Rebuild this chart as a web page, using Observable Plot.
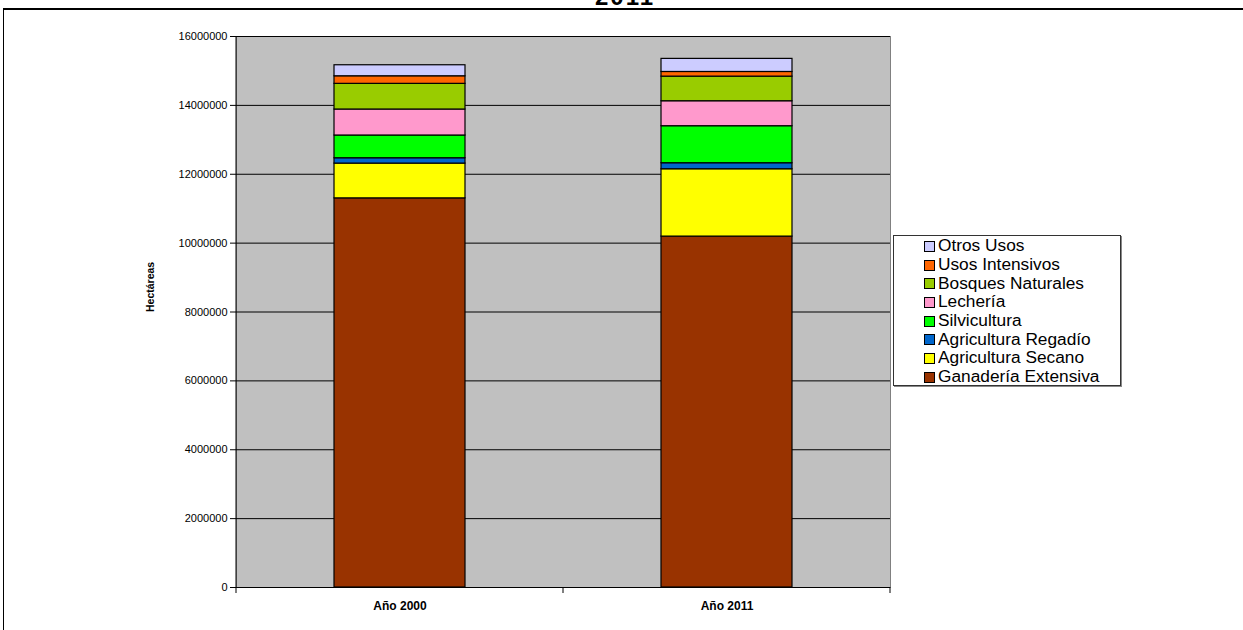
<!DOCTYPE html>
<html>
<head>
<meta charset="utf-8">
<script src="https://cdn.jsdelivr.net/npm/d3@7"></script>
<script src="https://cdn.jsdelivr.net/npm/@observablehq/plot@0.6"></script>
<style>
  body { margin: 0; background: #fff; font-family: "Liberation Sans", Arial, sans-serif; }
  #wrap { position: relative; width: 1243px; height: 630px; overflow: hidden; background: #fff; }
  #chart { position: absolute; left: 0; top: 0; }
  #border { position: absolute; left: 3px; top: 8px; width: 1300px; height: 700px; border-top: 2px solid #000; border-left: 1px solid #000; pointer-events: none; }
  #title { position: absolute; left: 525px; width: 200px; top: -15px; text-align: center; font: bold 24px/24px "Liberation Sans", Arial, sans-serif; letter-spacing: 2px; color: #000; }
  #legend { position: absolute; left: 893px; top: 235px; width: 228px; height: 151px; border: 1px solid #333; box-shadow: 1px 1px 0 #888; background: #fff; box-sizing: border-box; padding-top: 1px; }
  .li { display: flex; align-items: center; height: 18.7px; padding-left: 30px; font: 16px "Liberation Sans", Arial, sans-serif; color: #000; white-space: nowrap; }
  .sw { width: 9px; height: 9px; border: 1px solid #000; margin-right: 3px; flex: none; }
  .lt { display: inline-block; transform: scaleX(1.08); transform-origin: left center; }
</style>
</head>
<body>
<div id="wrap">
  <div id="title">2011</div>
  <div id="chart"></div>
  <div id="border"></div>
  <div id="legend"></div>
</div>
<script>
const categories = ["Año 2000", "Año 2011"];
const series = ["Ganadería Extensiva", "Agricultura Secano", "Agricultura Regadío", "Silvicultura", "Lechería", "Bosques Naturales", "Usos Intensivos", "Otros Usos"];
const values2000 = [11300000, 1010000, 155000, 660000, 755000, 745000, 220000, 320000];
const values2011 = [10190000, 1955000, 175000, 1075000, 725000, 715000, 135000, 380000];
const colors = ["#993300", "#FFFF00", "#0066CC", "#00FF00", "#FF99CC", "#99CC00", "#FF6600", "#CCCCFF"];
const yTicks = [0, 2000000, 4000000, 6000000, 8000000, 10000000, 12000000, 14000000, 16000000];
const yLabel = "Hectáreas";

const valuesByCategory = [values2000, values2011];
const data = [];
categories.forEach((c, ci) => series.forEach((s, si) => data.push({cat: c, series: s, value: valuesByCategory[ci][si]})));

const edges = (index, scales, values, dims) => {
  const x = scales.x, bw = x.bandwidth();
  const y0 = dims.height - dims.marginBottom;
  const xs = [dims.marginLeft];
  for (let i = 1; i < categories.length; i++) xs.push((x(categories[i - 1]) + bw + x(categories[i])) / 2);
  xs.push(dims.width - dims.marginRight);
  const g = d3.create("svg:g");
  g.append("line").attr("x1", dims.marginLeft).attr("x2", dims.marginLeft)
    .attr("y1", dims.marginTop).attr("y2", y0).attr("stroke", "#000");
  for (const xv of xs) {
    g.append("line").attr("x1", xv).attr("x2", xv).attr("y1", y0).attr("y2", y0 + 6).attr("stroke", "#000");
  }
  return g.node();
};

const chart = Plot.plot({
  width: 1243,
  height: 630,
  marginLeft: 236,
  marginRight: 353,
  marginTop: 36,
  marginBottom: 43,
  style: {background: "transparent", fontFamily: "'Liberation Sans', Arial, sans-serif", fontSize: "11px", color: "#000", overflow: "visible"},
  x: {domain: categories, paddingInner: 0.6, paddingOuter: 0.3, label: null},
  y: {domain: [0, 16000000], label: null},
  color: {domain: series, range: colors},
  marks: [
    Plot.frame({fill: "#C0C0C0", stroke: "#808080"}),
    Plot.gridY(yTicks, {stroke: "#000", strokeOpacity: 1}),
    Plot.barY(data, {x: "cat", y: "value", fill: "series", stroke: "#000", strokeWidth: 1.2}),
    Plot.ruleY([0], {stroke: "#000"}),
    Plot.axisY(yTicks, {tickFormat: d3.format("d"), tickSize: 6, tickPadding: 3, fontSize: 11, stroke: "#000", label: null}),
    Plot.axisX({tickSize: 0, tickPadding: 14, fontWeight: "bold", fontSize: 12, label: null}),
    Plot.text([yLabel], {frameAnchor: "left", dx: -86, rotate: -90, fontWeight: "bold", fontSize: 10.5, fill: "#000"}),
    edges
  ]
});
document.getElementById("chart").appendChild(chart);

const legend = document.getElementById("legend");
series.map((s, i) => ({s, c: colors[i]})).reverse().forEach(({s, c}) => {
  const row = document.createElement("div");
  row.className = "li";
  const sw = document.createElement("span");
  sw.className = "sw";
  sw.style.background = c;
  row.appendChild(sw);
  const t = document.createElement("span");
  t.className = "lt";
  t.textContent = s;
  row.appendChild(t);
  legend.appendChild(row);
});
</script>
</body>
</html>
